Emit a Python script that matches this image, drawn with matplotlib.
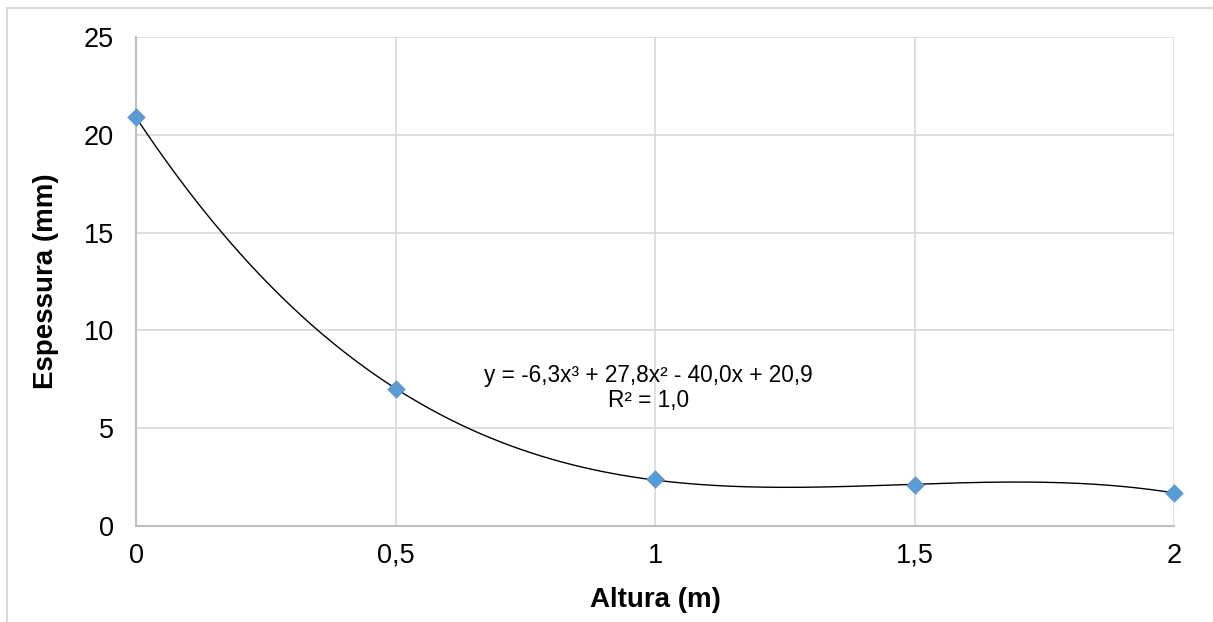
import numpy as np
import matplotlib.pyplot as plt
from matplotlib.lines import Line2D

# dados
altura = [0, 0.5, 1, 1.5, 2]
espessura = [20.9, 7.0, 2.4, 2.1, 1.7]
xticks = [0, 0.5, 1, 1.5, 2]
xtick_labels = ["0", "0,5", "1", "1,5", "2"]
yticks = [0, 5, 10, 15, 20, 25]
eq_text = "y = -6,3x³ + 27,8x² - 40,0x + 20,9\nR² = 1,0"

plt.rcParams['font.family'] = ['Liberation Sans', 'DejaVu Sans']

fig = plt.figure(figsize=(12.13, 6.22), dpi=100)
W, H = 1213, 622
ax = fig.add_axes([136 / W, 1 - 526 / H, (1174 - 136) / W, (526 - 37) / H])

# linha de tendencia polinomial (grau 3)
coef = np.polyfit(altura, espessura, 3)
xs = np.linspace(0, 2, 300)
ax.plot(xs, np.polyval(coef, xs), color="black", lw=1.0, zorder=2)

ax.scatter(altura, espessura, marker="D", s=90, color="#5B9BD5", zorder=3,
           clip_on=False, linewidths=0)

ax.set_xlim(0, 2)
ax.set_ylim(0, 25)
ax.set_xticks(xticks)
ax.set_xticklabels(xtick_labels)
ax.set_yticks(yticks)
ax.grid(True, color="#D9D9D9", lw=1.2)
ax.set_axisbelow(True)
for s in ["top", "right"]:
    ax.spines[s].set_visible(False)
for s in ["left", "bottom"]:
    ax.spines[s].set_color("#BFBFBF")
    ax.spines[s].set_linewidth(1.5)
ax.tick_params(length=0, labelsize=19.5, pad=12, colors="black")
ax.tick_params(axis="y", pad=16)

ax.set_xlabel("Altura (m)", fontsize=20, fontweight="bold", labelpad=13)
ax.set_ylabel("Espessura (mm)", fontsize=20, fontweight="bold", labelpad=18)

ax.text(0.988, 7.05, eq_text, fontsize=16.3, ha="center", va="center",
        linespacing=1.15)

# borda externa
fig.add_artist(Line2D([7 / W, 7 / W], [0, 1 - 8 / H], color="#D9D9D9", lw=1.5))
fig.add_artist(Line2D([7 / W, 1], [1 - 8 / H, 1 - 8 / H], color="#D9D9D9", lw=1.5))

fig.savefig("out.png", dpi=100, facecolor="white")
